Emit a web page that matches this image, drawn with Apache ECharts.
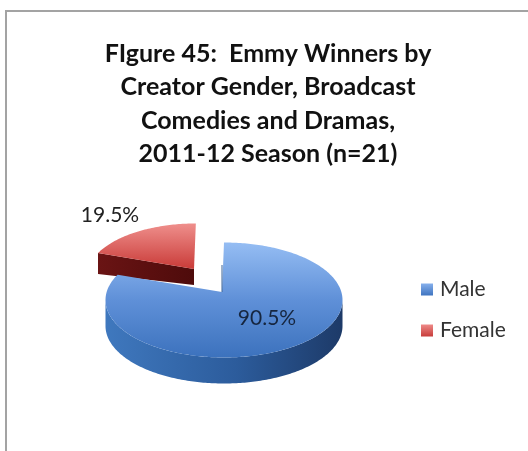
<!DOCTYPE html>
<html>
<head>
<meta charset="utf-8">
<style>html,body{margin:0;padding:0;background:#fff}#c{width:528px;height:451px}</style>
<script src="https://cdn.jsdelivr.net/npm/echarts@6/dist/echarts.min.js"></script>
</head>
<body>
<div id="c"></div>
<script>
var categories = ['Male', 'Female'];
var values = [90.5, 19.5];
var titleLines = ['FIgure 45:  Emmy Winners by', 'Creator Gender, Broadcast', 'Comedies and Dramas,', '2011-12 Season (n=21)'];

var FONT = 'Lato, "Open Sans", sans-serif';
var LG = echarts.graphic.LinearGradient;
var total = values[0] + values[1];

var APEX = [222, 292], CX = 224, CY = 300, RX = 118.5, RY = 57.5;
function rim(deg) {
  var a = deg * Math.PI / 180;
  return [CX + RX * Math.sin(a), CY - RY * Math.cos(a)];
}
function arc(from, to, fn) {
  var pts = [], n = Math.ceil(Math.abs(to - from));
  for (var i = 0; i <= n; i++) pts.push(fn(from + (to - from) * i / n));
  return pts;
}
function poly(points, fill) {
  return { type: 'polygon', shape: { points: points }, style: { fill: fill } };
}
function down(p, d) { return [p[0], p[1] + d]; }

function renderMale(params, api) {
  var sweep = api.value(0) / total * 360;
  var depth = 26;
  var front = arc(90, 270, rim);
  var back = front.map(function (p) { return down(p, depth); }).reverse();
  var top = [APEX].concat(arc(0, sweep, rim));
  return {
    type: 'group',
    children: [
      poly(front.concat(back), new LG(0, 0, 1, 0, [
        { offset: 0, color: '#3f78be' },
        { offset: 0.55, color: '#2c5c9c' },
        { offset: 1, color: '#1d3a68' }
      ])),
      poly(top, new LG(0, 0, 0, 1, [
        { offset: 0, color: '#95bdf3' },
        { offset: 0.5, color: '#5f90d8' },
        { offset: 1, color: '#3c72bd' }
      ])),
      { type: 'line', shape: { x1: APEX[0], y1: 265, x2: APEX[0], y2: APEX[1] },
        style: { stroke: '#3a6396', lineWidth: 1 } },
      { type: 'text', style: { text: api.value(0) + '%', x: 267, y: 318, align: 'center', verticalAlign: 'middle',
        font: '21px ' + FONT, fill: '#16263f' } }
    ]
  };
}

function renderFemale(params, api) {
  var dx = -28, dy = -23, scale = 0.92;
  var sweep = api.value(0) / total * 360;
  var apex = [APEX[0] + dx, APEX[1] + dy];
  function f(deg) {
    var p = rim(deg);
    return [apex[0] + (p[0] - APEX[0]) * scale, apex[1] + (p[1] - APEX[1]) * scale];
  }
  var tip = f(-sweep);
  var side = [tip, apex, down(apex, 16), down(tip, 21)];
  var top = [apex].concat(arc(-sweep, 0, f));
  return {
    type: 'group',
    children: [
      poly(side, new LG(0, 0, 1, 0, [
        { offset: 0, color: '#6a1414' },
        { offset: 1, color: '#4e0b0b' }
      ])),
      poly(top, new LG(0, 0, 0, 1, [
        { offset: 0, color: '#ef8f8c' },
        { offset: 1, color: '#c93b38' }
      ])),
      { type: 'text', style: { text: api.value(0) + '%', x: 110, y: 215, align: 'center', verticalAlign: 'middle',
        font: '21px ' + FONT, fill: '#222' } }
    ]
  };
}

var legendFill = {
  Male: new LG(0, 0, 0, 1, [{ offset: 0, color: '#86b0ec' }, { offset: 1, color: '#3f74c0' }]),
  Female: new LG(0, 0, 0, 1, [{ offset: 0, color: '#ee8a88' }, { offset: 1, color: '#c73c3a' }])
};

var chart = echarts.init(document.getElementById('c'), null, { renderer: 'canvas' });
chart.setOption({
  animation: false,
  backgroundColor: '#ffffff',
  title: {
    text: titleLines.join('\n'),
    left: 263, top: 32, textAlign: 'center',
    textStyle: { fontFamily: FONT, fontSize: 25, fontWeight: 'bold', color: '#111', lineHeight: 33.5 }
  },
  legend: {
    orient: 'vertical', left: 416, top: 272, itemWidth: 12, itemHeight: 12, itemGap: 16,
    icon: 'rect',
    data: categories.map(function (c) { return { name: c, itemStyle: { color: legendFill[c] } }; }),
    textStyle: { fontFamily: FONT, fontSize: 21, color: '#333', padding: [0, 0, 0, 2], lineHeight: 25 }
  },
  graphic: [
    { type: 'rect', shape: { x: 5, y: 10, width: 523, height: 2 }, style: { fill: '#a3a3a3' }, silent: true },
    { type: 'rect', shape: { x: 5, y: 10, width: 2, height: 441 }, style: { fill: '#a3a3a3' }, silent: true }
  ],
  series: [
    { type: 'custom', name: categories[1], coordinateSystem: 'none', renderItem: renderFemale,
      itemStyle: { color: legendFill.Female }, data: [[values[1]]], z: 2 },
    { type: 'custom', name: categories[0], coordinateSystem: 'none', renderItem: renderMale,
      itemStyle: { color: legendFill.Male }, data: [[values[0]]], z: 3 }
  ]
});
</script>
</body>
</html>
